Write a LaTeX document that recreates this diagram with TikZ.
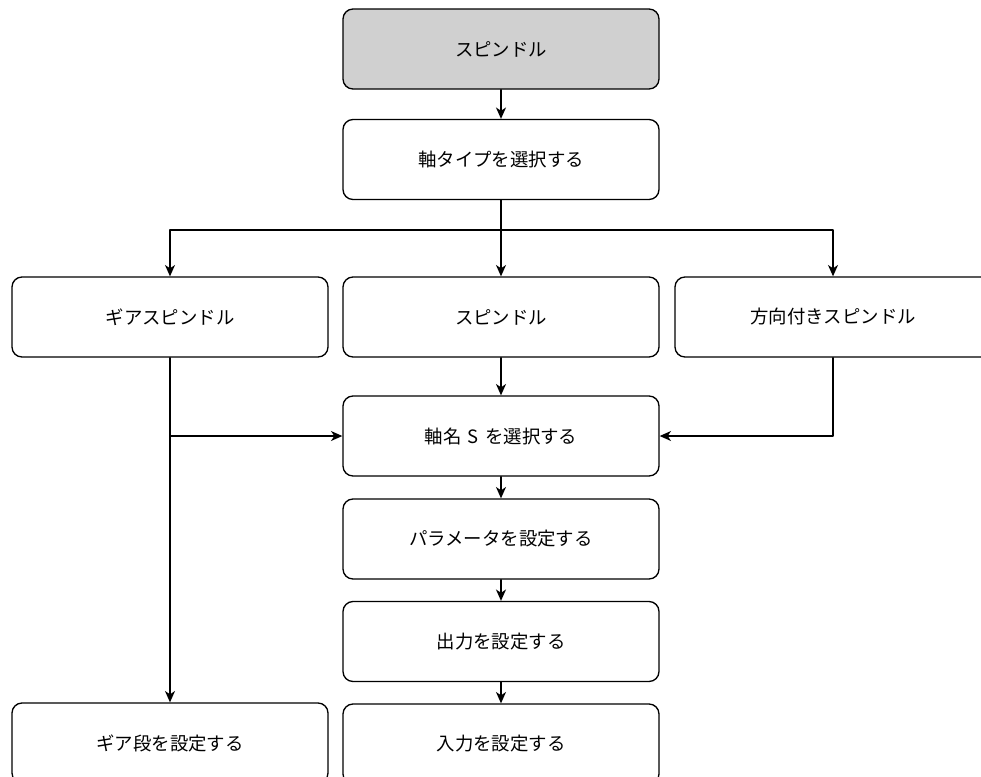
\documentclass[tikz,border=0pt]{standalone}
\usepackage{fontspec}
\setmainfont{Noto Sans CJK JP}
\usetikzlibrary{arrows.meta}
\definecolor{start}{HTML}{D0D0D0}
\definecolor{edge}{HTML}{000000}

\begin{document}
\begin{tikzpicture}[
  x=0.75pt, y=-0.75pt,
  line cap=round, line join=round,
  every node/.style={font=\fontsize{13.8pt}{16pt}\selectfont, inner sep=0pt},
  box/.style={draw=edge, fill=white, rounded corners=7.5pt, line width=1pt,
    minimum width=237pt, minimum height=60pt},
  startbox/.style={box, fill=start},
  flow/.style={draw=edge, line width=1pt, -{Stealth[length=8.5pt, width=7.5pt, inset=2.5pt]}},
]
\useasboundingbox (0,0) rectangle (981,776);
\clip (0,0) rectangle (981,776);
\node[startbox] (top) at (501,49) {スピンドル};
\node[box] (axis) at (501,159.5) {軸タイプを選択する};
\node[box] (gear) at (170,317) {ギアスピンドル};
\node[box] (spin) at (501,317) {スピンドル};
\node[box] (dir) at (833,317) {方向付きスピンドル};
\node[box] (sel) at (501,436) {軸名\hspace{0.35em}S\hspace{0.35em}を選択する};
\node[box] (param) at (501,539) {パラメータを設定する};
\node[box] (out) at (501,641.5) {出力を設定する};
\node[box] (in) at (501,744) {入力を設定する};
\node[box] (stage) at (170,743) {ギア段を設定する};
\coordinate (fork) at (501,230);
\coordinate (tap) at (170,436);
\draw[flow] (top) -- (axis);
\draw[flow] (axis) -- (spin);
\draw[flow] (fork) -| (gear);
\draw[flow] (fork) -| (dir);
\draw[flow] (spin) -- (sel);
\draw[flow] (gear) -- (stage);
\draw[flow] (tap) -- (sel);
\draw[flow] (dir) |- (sel);
\draw[flow] (sel) -- (param);
\draw[flow] (param) -- (out);
\draw[flow] (out) -- (in);
\end{tikzpicture}
\end{document}
